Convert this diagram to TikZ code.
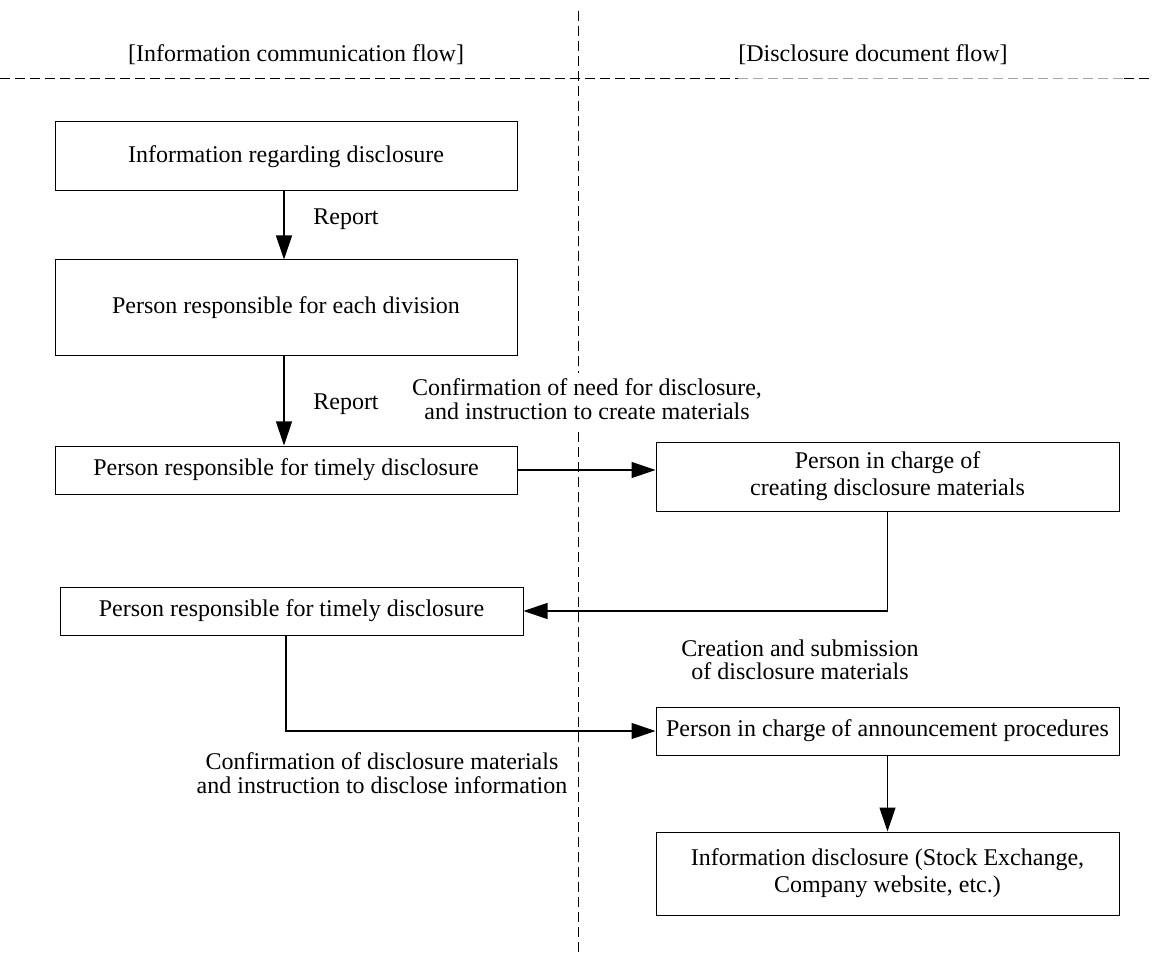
\documentclass[tikz,border=0pt]{standalone}
\usepackage{fontspec}
\setmainfont{Liberation Serif}
\usetikzlibrary{arrows.meta}
\begin{document}
\begin{tikzpicture}[x=1pt,y=-1pt,
  every node/.style={font=\fontsize{24}{27}\selectfont, inner sep=0pt},
  box/.style={draw, line width=1pt, minimum width=462pt, align=center},
  lbl/.style={align=center, font=\fontsize{24}{23.5}\selectfont},
  arr/.style={line width=1.2pt, -{Triangle[length=24pt,width=16pt]}},
  sep/.style={line width=0.9pt, dash pattern=on 10pt off 5pt}]
\useasboundingbox (0,0) rectangle (1154,957);
% headers
\node (hdrL) at (296,55) {[Information communication flow]};
\node (hdrR) at (873,55) {[Disclosure document flow]};
% separators
\coordinate (h0) at (0,78); \coordinate (h1) at (738,78);
\coordinate (h2) at (1124,78); \coordinate (h3) at (1154,78);
\draw[sep] (h0) -- (h1);
\draw[sep, gray!70] (h1) -- (h2);
\draw[sep] (h2) -- (h3);
\coordinate (v0) at (578,11); \coordinate (v1) at (578,373);
\coordinate (v2) at (578,432); \coordinate (v3) at (578,957);
\draw[sep] (v0) -- (v1);
\draw[sep] (v2) -- (v3);
% boxes
\node[box, minimum height=69pt] (b1) at (286,156.5) {Information regarding disclosure};
\node[box, minimum height=96pt] (b2) at (286,308) {Person responsible for each division};
\node[box, minimum height=48pt] (b3) at (286,470) {Person responsible for timely disclosure};
\node[box, minimum width=463pt, minimum height=48pt] (b4) at (291.5,611) {Person responsible for timely disclosure};
\node[box, minimum width=463pt, minimum height=69pt] (b5) at (887.5,476.5) {Person in charge of\\creating disclosure materials};
\node[box, minimum width=463pt, minimum height=48pt] (b6) at (887.5,731) {Person in charge of announcement procedures};
\node[box, minimum width=463pt, minimum height=83pt] (b7) at (887.5,873.5) {Information disclosure (Stock Exchange,\\Company website, etc.)};
% labels
\node (r1) at (346,219) {Report};
\node (r2) at (346,404) {Report};
\node[lbl] (c1) at (587,399) {Confirmation of need for disclosure,\\and instruction to create materials};
\node[lbl] (c2) at (800,660) {Creation and submission\\of disclosure materials};
\node[lbl] (c3) at (382,773) {Confirmation of disclosure materials\\and instruction to disclose information};
% connectors
\draw[arr] ([xshift=-2pt]b1.south) -- ([xshift=-2pt]b2.north);
\draw[arr] ([xshift=-2pt]b2.south) -- ([xshift=-2pt]b3.north);
\draw[arr] (b3.east) -- (b3.east -| b5.west);
\draw[arr] (b5.south) |- (b4.east);
\draw[arr] ([xshift=-5.5pt]b4.south) |- (b6.west);
\draw[arr] (b6.south) -- (b7.north);
\end{tikzpicture}
\end{document}
